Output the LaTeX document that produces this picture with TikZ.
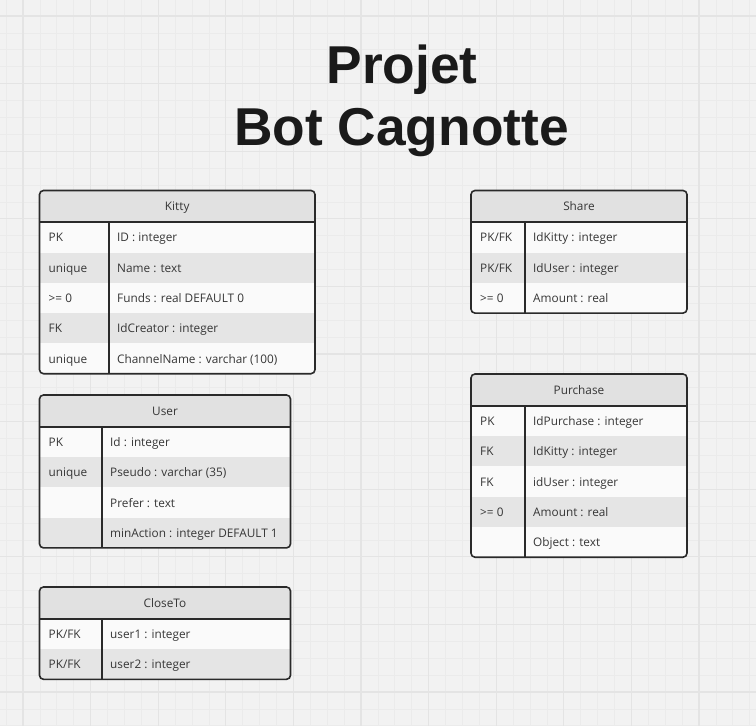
\documentclass[tikz,border=0pt]{standalone}
\usepackage{fontspec}
\setmainfont{Open Sans}
\newfontfamily\titlefont{Liberation Sans}
\definecolor{bgc}{HTML}{F2F2F2}
\definecolor{minorc}{HTML}{EBEBEB}
\definecolor{majorc}{HTML}{E4E4E4}
\definecolor{headc}{HTML}{E1E1E1}
\definecolor{whitec}{HTML}{FAFAFA}
\definecolor{grayc}{HTML}{E5E5E5}
\definecolor{borderc}{HTML}{2A2A2A}
\definecolor{textc}{HTML}{363636}
\definecolor{titlec}{HTML}{1A1A1A}
\tikzset{
  minorline/.style={draw=minorc, line width=0.7pt},
  majorline/.style={draw=majorc, line width=1.1pt},
  tblborder/.style={draw=borderc, line width=1.6pt},
  celltext/.style={inner sep=0pt, text=textc, font=\fontsize{11.8}{14}\selectfont, anchor=base west},
  headtext/.style={inner sep=0pt, text=textc, font=\fontsize{11.8}{14}\selectfont, anchor=base},
  titletext/.style={inner sep=0pt, text=titlec, font=\titlefont\bfseries\fontsize{53.3}{62}\selectfont, anchor=base}
}
% #1 id, #2 x1, #3 xdiv, #4 x2, #5 ytop, #6 title, #7 nrows, #8 rows
\newcommand{\ertable}[8]{%
  \pgfmathsetmacro{\ybot}{#5+31.7+30.3*#7}%
  \pgfmathsetmacro{\yhead}{#5+31.7}%
  \begin{scope}
    \clip[rounded corners=4pt] (#2,#5) rectangle (#4,\ybot);
    \fill[whitec] (#2,#5) rectangle (#4,\ybot);
    \fill[headc] (#2,#5) rectangle (#4,\yhead);
    \foreach \k/\f [count=\i] in {#8} {
      \pgfmathsetmacro{\ya}{\yhead+30.3*(\i-1)}
      \ifodd\i\relax\else
        \fill[grayc] (#2,\ya) rectangle (#4,\ya+30.3);
      \fi
    }
  \end{scope}
  \draw[tblborder] (#2,\yhead) -- (#4,\yhead);
  \draw[tblborder] (#3,\yhead) -- (#3,\ybot);
  \draw[tblborder, rounded corners=4pt] (#2,#5) rectangle (#4,\ybot);
  \node[headtext] (#1-title) at ({(#2+#4)/2}, #5+15.85+4.6) {#6};
  \foreach \k/\f [count=\i] in {#8} {
    \pgfmathsetmacro{\ya}{\yhead+30.3*(\i-1)}
    \node[celltext] (#1-k\i) at (#2+9, \ya+15.15+4.6) {\k};
    \node[celltext] (#1-f\i) at (#3+8, \ya+15.15+4.6) {\f};
  }
}
\begin{document}
\begin{tikzpicture}[x=1pt,y=-1pt]
  \useasboundingbox (0,0) rectangle (756,726);
  \fill[bgc] (0,0) rectangle (756,726);
  \begin{scope}
    \clip (0,0) rectangle (756,726);
    \foreach \i in {-2,...,45} {
      \draw[minorline] (23+16.9*\i,0) -- (23+16.9*\i,726);
      \draw[minorline] (0,16+16.9*\i) -- (756,16+16.9*\i);
    }
    \foreach \i in {0,...,11} {
      \draw[majorline] (23+67.6*\i,0) -- (23+67.6*\i,726);
      \draw[majorline] (0,16+67.6*\i) -- (756,16+67.6*\i);
    }
  \end{scope}

  \node[titletext] (title1) at (402,83.3) {Projet};
  \node[titletext] (title2) at (401.5,145) {Bot Cagnotte};

  \ertable{kitty}{39.5}{109}{315}{190.5}{Kitty}{5}{PK/ID : integer, unique/Name : text, >= 0/Funds : real DEFAULT 0, FK/IdCreator : integer, unique/ChannelName : varchar (100)}
  \ertable{share}{471}{525}{687}{190.5}{Share}{3}{{PK/FK}/IdKitty : integer, {PK/FK}/IdUser : integer, >= 0/Amount : real}
  \ertable{user}{39.5}{102}{290.5}{395}{User}{4}{PK/Id : integer, unique/Pseudo : varchar (35), {}/Prefer : text, {}/minAction : integer DEFAULT 1}
  \ertable{purchase}{471}{525}{687}{374}{Purchase}{5}{PK/IdPurchase : integer, FK/IdKitty : integer, FK/idUser : integer, >= 0/Amount : real, {}/Object : text}
  \ertable{closeto}{39.5}{102}{290.5}{587}{CloseTo}{2}{{PK/FK}/user1 : integer, {PK/FK}/user2 : integer}
\end{tikzpicture}
\end{document}
